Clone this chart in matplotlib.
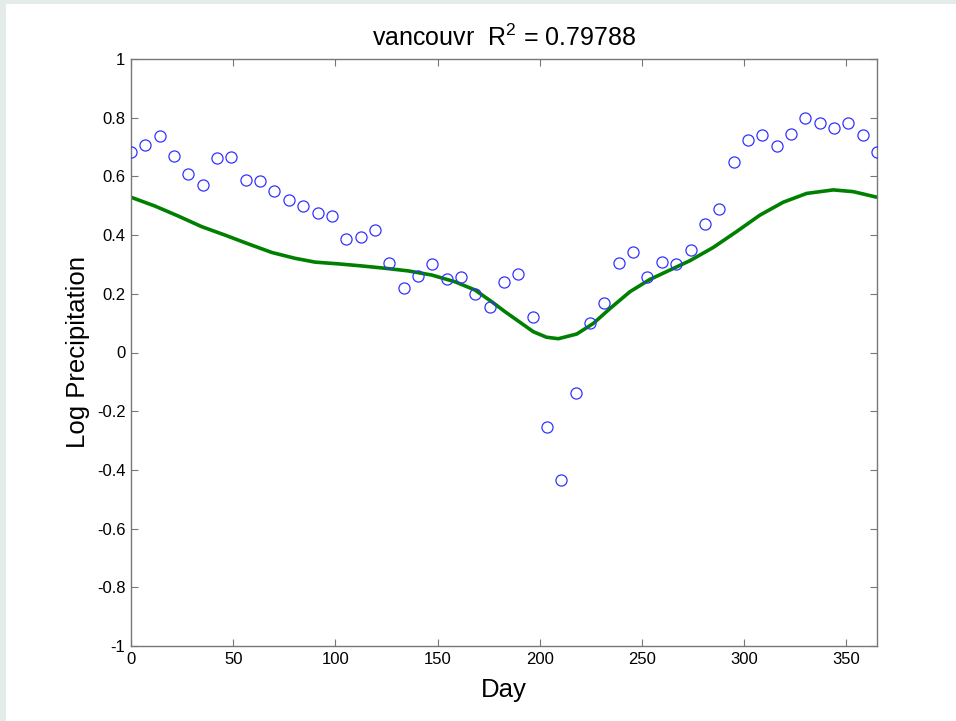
import numpy as np
import matplotlib
matplotlib.use("Agg")
import matplotlib.pyplot as plt
from matplotlib.patches import Rectangle

# Observed weekly log precipitation (53 points, day 0..365)
obs_day = np.linspace(0, 365, 53)
obs_val = [0.684, 0.707, 0.739, 0.670, 0.608, 0.572, 0.662, 0.667, 0.589, 0.583,
           0.551, 0.521, 0.498, 0.474, 0.466, 0.386, 0.394, 0.418,
           0.306, 0.219, 0.262, 0.300, 0.249, 0.258, 0.198, 0.155, 0.240, 0.267,
           0.120, -0.253, -0.434, -0.139, 0.102, 0.169, 0.306, 0.341,
           0.256, 0.307, 0.302, 0.350, 0.438, 0.490, 0.649, 0.725, 0.740, 0.704,
           0.744, 0.799, 0.783, 0.766, 0.781, 0.742, 0.684]

# Fitted curve
fit_day = [0, 11.7, 23.1, 34.5, 46.0, 57.4, 68.8, 80.2, 90.0, 101.4, 112.8,
           124.3, 135.7, 147.1, 158.5, 168.3, 176.5, 183.0, 188.7, 196.8,
           203.3, 209.1, 218.1, 226.2, 234.4, 244.1, 253.9, 263.7, 273.5,
           284.9, 296.3, 307.7, 319.1, 330.6, 343.6, 353.4, 365]
fit_val = [0.529, 0.499, 0.465, 0.429, 0.400, 0.370, 0.341, 0.321, 0.308,
           0.302, 0.295, 0.287, 0.278, 0.264, 0.241, 0.213, 0.173, 0.139,
           0.111, 0.071, 0.052, 0.047, 0.063, 0.099, 0.150, 0.207, 0.249,
           0.281, 0.313, 0.358, 0.412, 0.468, 0.512, 0.542, 0.554, 0.548,
           0.529]

xticks = [0, 50, 100, 150, 200, 250, 300, 350]
yticks = [-1, -0.8, -0.6, -0.4, -0.2, 0, 0.2, 0.4, 0.6, 0.8, 1]
ytick_labels = ["-1", "-0.8", "-0.6", "-0.4", "-0.2", "0", "0.2", "0.4", "0.6", "0.8", "1"]

plt.rcParams['font.family'] = ['Liberation Sans', 'DejaVu Sans']
plt.rcParams['mathtext.fontset'] = 'custom'
plt.rcParams['mathtext.rm'] = 'Liberation Sans'

fig = plt.figure(figsize=(9.56, 7.21), dpi=100)
fig.patch.set_facecolor('white')
border = '#e3ece9'
fig.patches.append(Rectangle((0, 0), 6/956, 1, transform=fig.transFigure,
                             facecolor=border, edgecolor='none', zorder=-10))
fig.patches.append(Rectangle((0, 1 - 4/721), 1, 4/721, transform=fig.transFigure,
                             facecolor=border, edgecolor='none', zorder=-10))

ax = fig.add_axes([131/956, 1 - 646/721, (877-131)/956, (646-59)/721])
ax.plot(obs_day, obs_val, 'o', markerfacecolor='none', markeredgecolor='#3333ff',
        markersize=8, markeredgewidth=0.9, zorder=3)
ax.plot(fit_day, fit_val, '-', color='#008000', linewidth=2.6, zorder=2,
        solid_joinstyle='round')

ax.set_xlim(0, 365)
ax.set_ylim(-1, 1)
ax.set_xticks(xticks)
ax.set_yticks(yticks)
ax.set_yticklabels(ytick_labels)
ax.tick_params(direction='in', length=5, width=0.8, color='#777777',
               labelsize=12, top=True, right=True, pad=4)
for s in ax.spines.values():
    s.set_color('#777777')
    s.set_linewidth(1.0)

ax.set_xlabel('Day', fontsize=18.5, labelpad=8)
ax.set_ylabel('Log Precipitation', fontsize=18.5, labelpad=5)
ax.set_title(r'vancouvr  R$^{\mathrm{2}}$ = 0.79788', fontsize=18, pad=9)

fig.savefig('out.png', dpi=100)
